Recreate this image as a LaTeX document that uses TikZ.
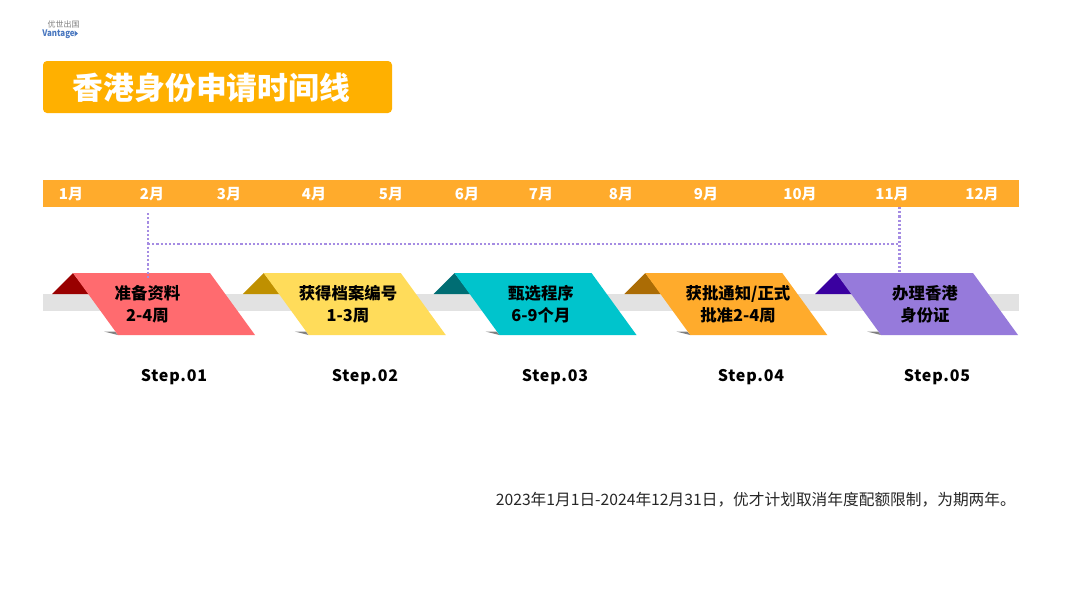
\documentclass[tikz,border=0pt]{standalone}
\usepackage{fontspec}
\setmainfont{Noto Sans CJK SC}
\newfontfamily\latinfont{Noto Sans CJK SC}
\newfontfamily\stepfont[LetterSpace=5]{Noto Sans CJK SC}
\definecolor{barorange}{HTML}{FFAB2C}
\definecolor{titleorange}{HTML}{FFB000}
\definecolor{bandgray}{HTML}{E2E2E2}
\definecolor{dotpurple}{HTML}{A58CE3}
\definecolor{logoblue}{HTML}{4A78C0}
\definecolor{cardred}{HTML}{FF6B6F}
\definecolor{cardyellow}{HTML}{FFDC5A}
\definecolor{cardteal}{HTML}{00C4CC}
\definecolor{cardorange}{HTML}{FFAB2C}
\definecolor{cardpurple}{HTML}{967ADB}
\definecolor{tabred}{HTML}{990000}
\definecolor{tabyellow}{HTML}{BF9000}
\definecolor{tabteal}{HTML}{006D73}
\definecolor{taborange}{HTML}{AB6C05}
\definecolor{tabpurple}{HTML}{3A00A0}
\tikzset{
    monthlabel/.style={text=white, font=\fontsize{15}{17}\selectfont\bfseries},
    cardlabel/.style={align=center, font=\fontsize{16.4}{22}\selectfont\bfseries},
    steplabel/.style={font=\stepfont\fontsize{16}{18}\selectfont\bfseries},
    dotline/.style={dotpurple, line width=2.4pt, dash pattern=on 2.2pt off 2pt}
}
\begin{document}
\begin{tikzpicture}[x=1pt, y=-1pt]
    \useasboundingbox (0,0) rectangle (1080,608);
    \fill[white] (0,0) rectangle (1080,608);

    % Logo
    \node[text=gray, font=\fontsize{8}{9}\selectfont, inner sep=0] (logotop) at (63.5,24.5) {优世出国};
    \node[text=logoblue, font=\latinfont\fontsize{9}{10}\selectfont\bfseries, inner sep=0, xscale=.88, transform shape] (logoname) at (58.5,34) {Vantage};
    \fill[logoblue] (74.5,30.5) -- (78,33.5) -- (74.5,36.5) -- cycle;

    % Title
    \fill[titleorange, rounded corners=4pt] (43,61) rectangle (392,113);
    \node[text=white, font=\fontsize{30.8}{34}\selectfont\bfseries, inner sep=0] (title) at (211.5,87.5) {香港身份申请时间线};

    % Months
    \fill[barorange] (43,180) rectangle (1019,207);
    \foreach \x/\m in {71/1, 152/2, 229/3, 314/4, 391/5, 467/6, 541/7, 621/8, 706/9, 800/10, 892/11, 982/12}
        \node[monthlabel] (month\m) at (\x,194) {\m 月};

    % Band behind the cards
    \fill[bandgray] (43,294) rectangle (1019,311);

    % Cards
    \foreach \i/\cardcol/\tabcol in {0/cardred/tabred, 1/cardyellow/tabyellow, 2/cardteal/tabteal, 3/cardorange/taborange, 4/cardpurple/tabpurple} {
        \begin{scope}[xshift=\i*190.75]
            \fill[\tabcol] (52,294) -- (73,273) -- (89,294) -- cycle;
            \fill[gray] (104,331.5) -- (115,331.5) -- (118,335) -- cycle;
            \fill[\cardcol] (73,273) -- (210,273) -- (255,335) -- (118,335) -- cycle;
        \end{scope}
    }

    % Card texts
    \node[cardlabel] (card1) at (147.5,304) {准备资料\\2-4周};
    \node[cardlabel] (card2) at (348,304) {获得档案编号\\1-3周};
    \node[cardlabel] (card3) at (541,304) {甄选程序\\6-9个月};
    \node[cardlabel] (card4) at (738,304) {获批通知/正式\\批准2-4周};
    \node[cardlabel] (card5) at (925,304) {办理香港\\身份证};

    % Steps
    \node[steplabel] (step1) at (174,377) {Step.01};
    \node[steplabel] (step2) at (365,377) {Step.02};
    \node[steplabel] (step3) at (555,377) {Step.03};
    \node[steplabel] (step4) at (751,377) {Step.04};
    \node[steplabel] (step5) at (937,377) {Step.05};

    % Dotted span
    \coordinate (spanstart) at (148,213);
    \coordinate (spanend) at (148,279);
    \coordinate (spanleft) at (148,244);
    \coordinate (spanright) at (899,244);
    \coordinate (endtop) at (899.5,207);
    \coordinate (endbottom) at (899.5,273);
    \draw[dotline] (spanstart) -- (spanend);
    \draw[dotline] (spanleft) -- (spanright);
    \draw[dotline] (endtop) -- (endbottom);

    % Note
    \node[text=black!85, font=\fontsize{15.7}{18}\selectfont, anchor=east, inner sep=0] (note) at (1016,500) {2023年1月1日-2024年12月31日，优才计划取消年度配额限制，为期两年。};
\end{tikzpicture}
\end{document}
